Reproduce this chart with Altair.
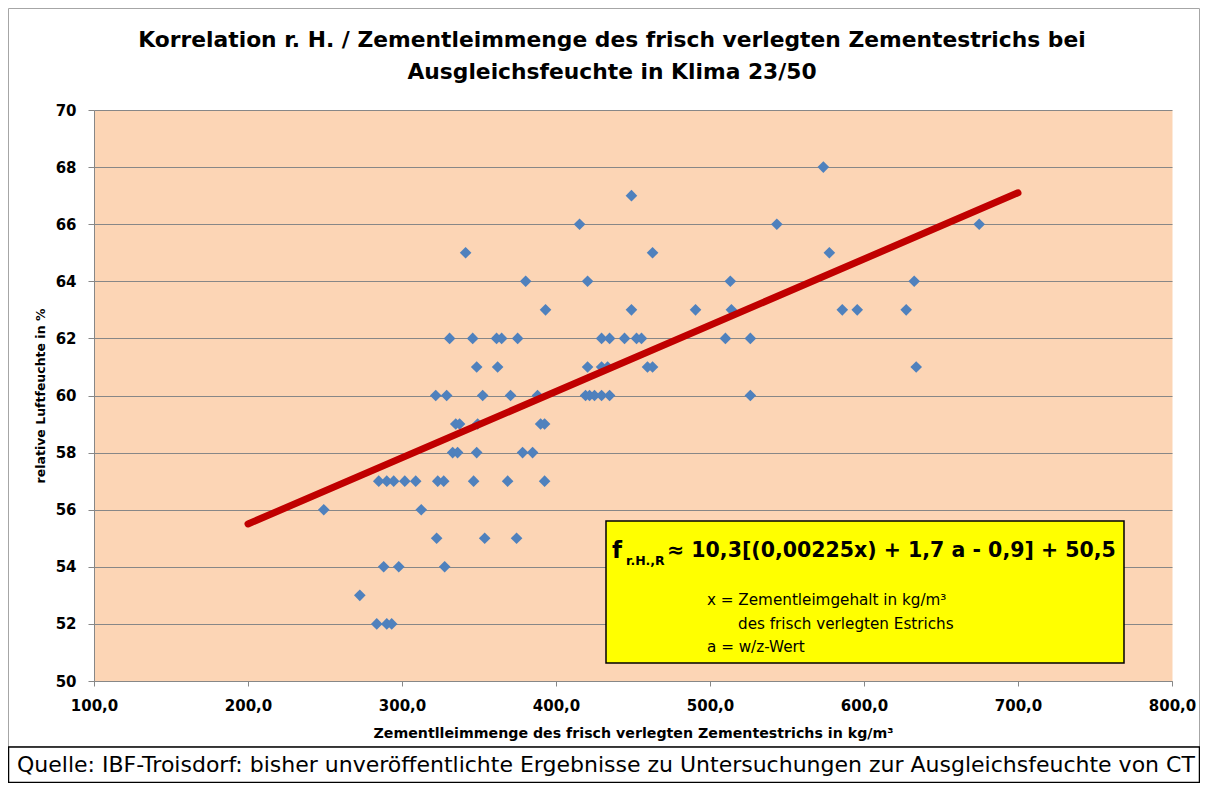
import altair as alt
import pandas as pd

# ---- data ----
PT_X = [573.6,
        449.0,
        415.3, 543.4, 674.8,
        341.3, 462.7, 577.5,
        380.3, 420.5, 513.2, 632.6,
        393.2, 449.0, 490.6, 513.9, 585.9, 595.6, 627.4,
        330.9, 345.9, 361.4, 364.7, 375.1, 429.6, 434.8, 444.5, 452.3, 455.5, 510.0, 526.2,
        348.5, 362.1, 420.5, 429.6, 433.5, 459.4, 462.7, 633.9,
        321.9, 329.0, 352.4, 370.5, 388.0, 419.2, 421.8, 425.0, 429.6, 434.8, 526.2,
        334.9, 337.4, 349.1, 390.0, 392.6,
        332.9, 336.1, 348.5, 378.3, 384.8,
        284.9, 290.1, 294.6, 301.8, 308.9, 323.2, 327.1, 346.5, 368.6, 392.6,
        249.2, 312.5,
        322.5, 353.7, 374.4,
        288.1, 297.9, 327.7,
        272.6,
        283.6, 290.1, 293.3]
PT_Y = [68,
        67,
        66, 66, 66,
        65, 65, 65,
        64, 64, 64, 64,
        63, 63, 63, 63, 63, 63, 63,
        62, 62, 62, 62, 62, 62, 62, 62, 62, 62, 62, 62,
        61, 61, 61, 61, 61, 61, 61, 61,
        60, 60, 60, 60, 60, 60, 60, 60, 60, 60, 60,
        59, 59, 59, 59, 59,
        58, 58, 58, 58, 58,
        57, 57, 57, 57, 57, 57, 57, 57, 57, 57,
        56, 56,
        55, 55, 55,
        54, 54, 54,
        53,
        52, 52, 52]

TREND_X = [200, 700]
TREND_Y = [55.5, 67.1]

X_TICKS = [100, 200, 300, 400, 500, 600, 700, 800]
Y_TICKS = [50, 52, 54, 56, 58, 60, 62, 64, 66, 68, 70]

TITLE_1 = "Korrelation r. H. / Zementleimmenge des frisch verlegten Zementestrichs bei"
TITLE_2 = "Ausgleichsfeuchte in Klima 23/50"
X_TITLE = "Zementlleimmenge des frisch verlegten Zementestrichs in kg/m³"
Y_TITLE = "relative Luftfeuchte in %"
F_MAIN = "f"
F_SUB = "r.H.,R"
F_REST = "≈ 10,3[(0,00225x) + 1,7 a - 0,9] + 50,5"
F_NOTE_1 = "x = Zementleimgehalt in kg/m³"
F_NOTE_2 = "des  frisch verlegten Estrichs"
F_NOTE_3 = "a = w/z-Wert"
SOURCE = "Quelle: IBF-Troisdorf: bisher unveröffentlichte Ergebnisse zu Untersuchungen zur Ausgleichsfeuchte  von CT"

BOLD = "DejaVu Sans"
GRID = "#878787"

pts = pd.DataFrame({"x": PT_X, "y": PT_Y})
trend = pd.DataFrame({"x": TREND_X, "y": TREND_Y})
one = pd.DataFrame({"d": [0]})

xscale = alt.Scale(domain=[100, 800], nice=False, zero=False)
yscale = alt.Scale(domain=[50, 70], nice=False, zero=False)

x_axis = alt.Axis(values=X_TICKS, grid=False, title=X_TITLE,
                  labelExpr="replace(format(datum.value, '.1f'), '.', ',')",
                  labelFont=BOLD, labelFontWeight="bold", labelFontSize=15,
                  labelColor="black", labelPadding=12, labelFlush=False,
                  tickSize=5, tickColor=GRID, domainColor=GRID,
                  titleFont=BOLD, titleFontWeight="bold", titleFontSize=14.2,
                  titleColor="black", titleY=52, titleBaseline="middle")
y_axis = alt.Axis(values=Y_TICKS, grid=True, gridColor=GRID, gridWidth=1,
                  title=Y_TITLE, labelFont=BOLD, labelFontWeight="bold",
                  labelFontSize=15, labelColor="black", labelPadding=12,
                  tickSize=6, tickColor=GRID, domainColor=GRID,
                  titleFont=BOLD, titleFontWeight="bold", titleFontSize=12.5,
                  titleColor="black", titleX=-54, titleY=285.5,
                  titleBaseline="middle", titleAlign="center", titleAngle=270)

frame = alt.Chart(one).mark_rect(fill="transparent", stroke="#A6A6A6", strokeWidth=1).encode(
    x=alt.value(-85.5), x2=alt.value(1105.5), y=alt.value(-101.5), y2=alt.value(637))

points = alt.Chart(pts).mark_point(shape="diamond", filled=True, color="#4F81BD",
                                   size=135, opacity=1).encode(
    x=alt.X("x:Q", scale=xscale, axis=x_axis),
    y=alt.Y("y:Q", scale=yscale, axis=y_axis))

line = alt.Chart(trend).mark_line(color="#C00000", strokeWidth=7, strokeCap="round").encode(
    x=alt.X("x:Q", scale=xscale), y=alt.Y("y:Q", scale=yscale))

fbox = alt.Chart(one).mark_rect(fill="#FFFF00", stroke="black", strokeWidth=1.5).encode(
    x=alt.value(512), x2=alt.value(1030), y=alt.value(411), y2=alt.value(553))

def txt(s, x, y, size, bold=False, font=BOLD, align="left", baseline="alphabetic"):
    return alt.Chart(pd.DataFrame({"t": [s]})).mark_text(
        font=font, fontSize=size, fontWeight="bold" if bold else "normal",
        color="black", align=align, baseline=baseline).encode(
        text="t:N", x=alt.value(x), y=alt.value(y))

texts = [
    txt(TITLE_1, 518, -70, 21.8, True, align="center", baseline="middle"),
    txt(TITLE_2, 518, -38, 21.8, True, align="center", baseline="middle"),
    txt(F_MAIN, 518, 448, 23, True),
    txt(F_SUB, 532, 455, 12.5, True),
    txt(F_REST, 573, 447, 20.5, True),
    txt(F_NOTE_1, 613, 490, 15.2, baseline="middle"),
    txt(F_NOTE_2, 644, 514, 15.2, baseline="middle"),
    txt(F_NOTE_3, 613, 537, 15.2, baseline="middle"),
]

src_box = alt.Chart(one).mark_rect(fill="white", stroke="black", strokeWidth=1.5).encode(
    x=alt.value(-85.5), x2=alt.value(1105.5), y=alt.value(637), y2=alt.value(672.5))
src_txt = txt(SOURCE, -77, 655, 22, False, font="DejaVu Sans", baseline="middle")

chart = alt.layer(frame, points, line, fbox, *texts, src_box, src_txt).properties(
    width=1078, height=571,
    autosize=alt.AutoSizeParams(type="none"),
    padding={"left": 86, "top": 102, "right": 28, "bottom": 102},
    background="white",
).configure_view(fill="#FCD5B5", stroke="transparent")

chart.save("out.html", embed_options={"renderer": "svg", "actions": False})
